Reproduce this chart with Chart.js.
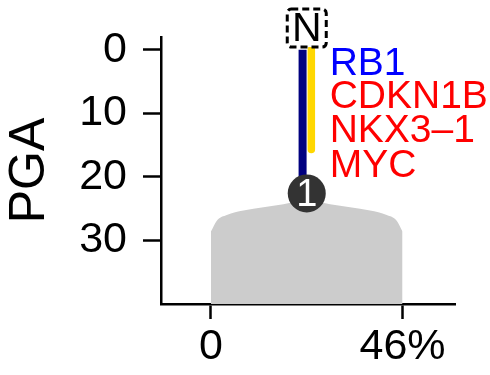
<!DOCTYPE html>
<html>
<head>
<meta charset="utf-8">
<script src="https://cdn.jsdelivr.net/npm/chart.js@4/dist/chart.umd.min.js"></script>
<style>
html,body{margin:0;padding:0;background:#fff;}
#wrap{width:490px;height:375px;position:relative;}
</style>
</head>
<body>
<div id="wrap"><canvas id="c" width="490" height="375"></canvas></div>
<script>
// ---- data ----
const xTickValues = [0, 46];
const xTickLabels = ['0', '46%'];
const yTickValues = [0, 10, 20, 30];
const yTitle = 'PGA';

// density outline of PGA (x = %, y = PGA)
const densityX = [0, 1.4, 3.8, 7.8, 17.4, 23, 28.6, 38.2, 42.2, 44.6, 46];
const densityY = [28.6, 26.9, 26.0, 25.3, 24.3, 23.6, 24.3, 25.3, 26.0, 26.9, 28.6];

// branch segments
const navyLineX = [22, 22];
const navyLineY = [0, 22.6];
const yellowLineX = [24.1, 24.1];
const yellowLineY = [0, 15.7];

// node
const nodeX = [23];
const nodeY = [22.6];
const nodeLabels = ['1'];

// root box
const rootX = 23;
const rootY = -3.4;
const rootLabel = 'N';

// gene labels
const genes = ['RB1', 'CDKN1B', 'NKX3\u20131', 'MYC'];
const geneColors = ['#0000FF', '#FF0000', '#FF0000', '#FF0000'];
const geneLabelX = 28.5;
const geneLabelY = [4.0, 9.1, 14.5, 20.0];

const FONT = "'Liberation Sans', Arial, Helvetica, sans-serif";
const zip = (xs, ys) => xs.map((x, i) => ({x: x, y: ys[i]}));

const annot = {
  id: 'annot',
  afterDatasetsDraw(chart) {
    const ctx = chart.ctx;
    const xs = chart.scales.x, ys = chart.scales.y;
    ctx.save();
    // node labels
    ctx.fillStyle = '#ffffff';
    ctx.font = '38px ' + FONT;
    ctx.textAlign = 'center';
    ctx.textBaseline = 'middle';
    nodeLabels.forEach((t, i) => {
      ctx.fillText(t, xs.getPixelForValue(nodeX[i]), ys.getPixelForValue(nodeY[i]) + 2);
    });
    // gene labels
    ctx.font = '39px ' + FONT;
    ctx.textAlign = 'left';
    ctx.textBaseline = 'alphabetic';
    genes.forEach((g, i) => {
      ctx.fillStyle = geneColors[i];
      ctx.fillText(g, xs.getPixelForValue(geneLabelX), ys.getPixelForValue(geneLabelY[i]));
    });
    // root box
    const cx = xs.getPixelForValue(rootX), cy = ys.getPixelForValue(rootY);
    const w = 39, h = 38;
    ctx.beginPath();
    ctx.roundRect(cx - w / 2, cy - h / 2, w, h, 4);
    ctx.fillStyle = '#ffffff';
    ctx.fill();
    ctx.setLineDash([7, 4]);
    ctx.lineWidth = 3;
    ctx.strokeStyle = '#000000';
    ctx.stroke();
    ctx.setLineDash([]);
    ctx.fillStyle = '#000000';
    ctx.font = '41px ' + FONT;
    ctx.textAlign = 'center';
    ctx.textBaseline = 'middle';
    ctx.fillText(rootLabel, cx, cy + 2);
    ctx.restore();
  }
};

function noPad(s) {
  s.paddingTop = 0; s.paddingBottom = 0; s.paddingLeft = 0; s.paddingRight = 0;
}

new Chart(document.getElementById('c'), {
  type: 'scatter',
  data: {
    datasets: [
      {
        data: zip(nodeX, nodeY),
        pointRadius: 19,
        pointHoverRadius: 19,
        pointBackgroundColor: '#333333',
        pointBorderWidth: 0,
        showLine: false
      },
      {
        data: zip(navyLineX, navyLineY),
        showLine: true,
        borderColor: '#000080',
        borderWidth: 8,
        borderCapStyle: 'butt',
        pointRadius: 0
      },
      {
        data: zip(yellowLineX, yellowLineY),
        showLine: true,
        borderColor: '#FFD700',
        borderWidth: 7.5,
        borderCapStyle: 'round',
        pointRadius: 0
      },
      {
        data: zip(densityX, densityY),
        showLine: true,
        fill: 'start',
        backgroundColor: '#cccccc',
        borderWidth: 0,
        borderColor: 'rgba(0,0,0,0)',
        cubicInterpolationMode: 'monotone',
        pointRadius: 0
      }
    ]
  },
  options: {
    responsive: false,
    animation: false,
    devicePixelRatio: 1,
    layout: {padding: {top: 37, right: 35, left: 0, bottom: 0}},
    plugins: {legend: {display: false}, tooltip: {enabled: false}},
    scales: {
      x: {
        type: 'linear',
        min: -12,
        max: 58.6,
        afterBuildTicks: s => { s.ticks = xTickValues.map(v => ({value: v})); },
        afterFit: s => { s.height = 71; noPad(s); },
        ticks: {
          callback: (v) => xTickLabels[xTickValues.indexOf(v)],
          font: {size: 43, family: FONT},
          color: '#000000',
          padding: 2,
          maxRotation: 0,
          autoSkip: false
        },
        grid: {drawOnChartArea: false, drawTicks: true, tickLength: 15, tickWidth: 2.5, tickColor: '#000000'},
        border: {display: true, color: '#000000', width: 2.5}
      },
      y: {
        type: 'linear',
        reverse: true,
        min: -2,
        max: 40,
        afterBuildTicks: s => { s.ticks = yTickValues.map(v => ({value: v})); },
        afterFit: s => { s.width = 161; noPad(s); },
        ticks: {
          callback: v => String(v),
          font: {size: 43, family: FONT},
          color: '#000000',
          padding: 16,
          autoSkip: false
        },
        title: {display: true, text: yTitle, font: {size: 50, family: FONT}, color: '#000000', padding: 0},
        grid: {drawOnChartArea: false, drawTicks: true, tickLength: 18, tickWidth: 2.5, tickColor: '#000000'},
        border: {display: true, color: '#000000', width: 2.5}
      }
    }
  },
  plugins: [annot]
});
</script>
</body>
</html>
